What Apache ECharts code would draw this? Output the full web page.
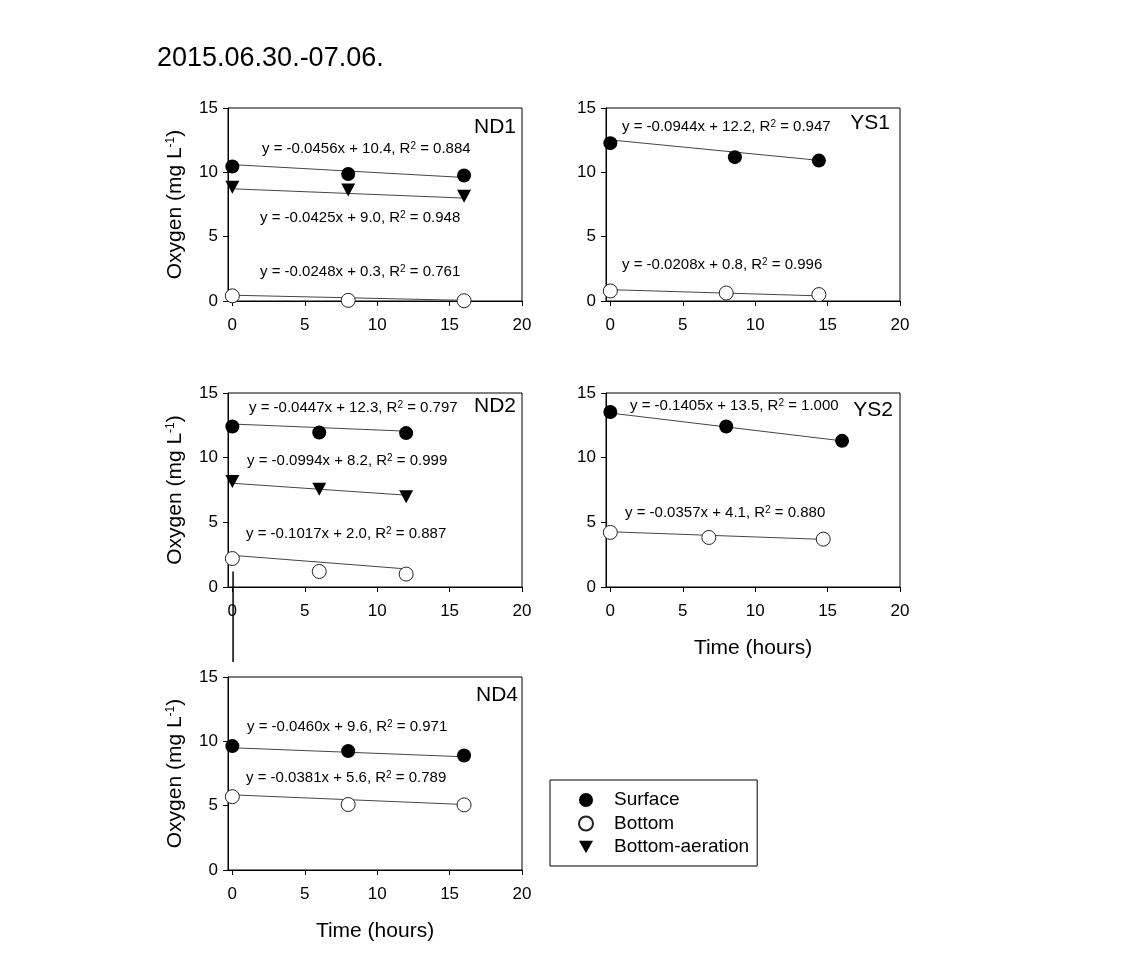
<!DOCTYPE html>
<html><head><meta charset="utf-8">
<script src="https://cdn.jsdelivr.net/npm/echarts@6/dist/echarts.min.js"></script>
<style>html,body{margin:0;padding:0;background:#fff}#c{width:1138px;height:957px}</style>
</head><body><div id="c"></div>
<script>
const FONT = '"Liberation Sans", Arial, sans-serif';
const chartTitle = '2015.06.30.-07.06.';
const xTickValues = [0, 5, 10, 15, 20];
const seriesNames = ['Surface', 'Bottom', 'Bottom-aeration'];
const yTitle = 'Oxygen (mg L';
const xTitle = 'Time (hours)';

// ND1
const nd1Time = [0, 8, 16];
const nd1Surface = [10.45, 9.87, 9.75];
const nd1Bottom = [0.4, 0.05, 0.02];
const nd1Aeration = [8.85, 8.62, 8.15];
const nd1FitTime = [0, 16];
const nd1SurfaceFit = [10.6, 9.6];
const nd1BottomFit = [0.45, 0.05];
const nd1AerationFit = [8.72, 8.0];
const nd1Eqs = [['-0.0456', '10.4', '0.884'], ['-0.0425', '9.0', '0.948'], ['-0.0248', '0.3', '0.761']];

// YS1
const ys1SurfaceTime = [0, 8.6, 14.4];
const ys1Surface = [12.27, 11.18, 10.91];
const ys1BottomTime = [0, 8, 14.4];
const ys1Bottom = [0.78, 0.62, 0.5];
const ys1FitTime = [0, 14.4];
const ys1SurfaceFit = [12.52, 10.93];
const ys1BottomFit = [0.88, 0.4];
const ys1Eqs = [['-0.0944', '12.2', '0.947'], ['-0.0208', '0.8', '0.996']];

// ND2
const nd2Time = [0, 6, 12];
const nd2Surface = [12.41, 11.95, 11.9];
const nd2Aeration = [8.15, 7.56, 6.98];
const nd2Bottom = [2.2, 1.2, 1.0];
const nd2FitTime = [0, 12];
const nd2SurfaceFit = [12.6, 12.05];
const nd2AerationFit = [8.02, 7.1];
const nd2BottomFit = [2.45, 1.4];
const nd2Eqs = [['-0.0447', '12.3', '0.797'], ['-0.0994', '8.2', '0.999'], ['-0.1017', '2.0', '0.887']];
const nd2StrayLine = [[0.05, 1.2], [0.05, -5.8]];

// YS2
const ys2SurfaceTime = [0, 8, 16];
const ys2Surface = [13.53, 12.41, 11.3];
const ys2BottomTime = [0, 6.8, 14.7];
const ys2Bottom = [4.22, 3.83, 3.7];
const ys2SurfaceFitTime = [0, 16];
const ys2SurfaceFit = [13.45, 11.3];
const ys2BottomFitTime = [0, 14.7];
const ys2BottomFit = [4.27, 3.68];
const ys2Eqs = [['-0.1405', '13.5', '1.000'], ['-0.0357', '4.1', '0.880']];

// ND4
const nd4Time = [0, 8, 16];
const nd4Surface = [9.63, 9.24, 8.9];
const nd4Bottom = [5.7, 5.09, 5.06];
const nd4FitTime = [0, 16];
const nd4SurfaceFit = [9.5, 8.8];
const nd4BottomFit = [5.84, 5.09];
const nd4Eqs = [['-0.0460', '9.6', '0.971'], ['-0.0381', '5.6', '0.789']];

const zip = (xs, ys) => xs.map((x, i) => [x, ys[i]]);

const panels = [
  { name: 'ND1', left: 228, top: 108, h: 193, yT: true, xT: false, lab: [516, 127],
    pts: [[0, zip(nd1Time, nd1Surface)], [1, zip(nd1Time, nd1Bottom)], [2, zip(nd1Time, nd1Aeration)]],
    fits: [zip(nd1FitTime, nd1SurfaceFit), zip(nd1FitTime, nd1AerationFit), zip(nd1FitTime, nd1BottomFit)],
    eqs: nd1Eqs, eqPos: [[262, 149], [260, 218], [260, 272]] },
  { name: 'YS1', left: 606, top: 108, h: 193, yT: false, xT: false, lab: [890, 123],
    pts: [[0, zip(ys1SurfaceTime, ys1Surface)], [1, zip(ys1BottomTime, ys1Bottom)]],
    fits: [zip(ys1FitTime, ys1SurfaceFit), zip(ys1FitTime, ys1BottomFit)],
    eqs: ys1Eqs, eqPos: [[622, 127], [622, 265]] },
  { name: 'ND2', left: 228, top: 393, h: 194, yT: true, xT: false, lab: [516, 406],
    pts: [[0, zip(nd2Time, nd2Surface)], [1, zip(nd2Time, nd2Bottom)], [2, zip(nd2Time, nd2Aeration)]],
    fits: [zip(nd2FitTime, nd2SurfaceFit), zip(nd2FitTime, nd2AerationFit), zip(nd2FitTime, nd2BottomFit)],
    eqs: nd2Eqs, eqPos: [[249, 408], [247, 461], [246, 534]], stray: nd2StrayLine },
  { name: 'YS2', left: 606, top: 393, h: 194, yT: false, xT: true, lab: [893, 410],
    pts: [[0, zip(ys2SurfaceTime, ys2Surface)], [1, zip(ys2BottomTime, ys2Bottom)]],
    fits: [zip(ys2SurfaceFitTime, ys2SurfaceFit), zip(ys2BottomFitTime, ys2BottomFit)],
    eqs: ys2Eqs, eqPos: [[630, 406], [625, 513]] },
  { name: 'ND4', left: 228, top: 677, h: 193, yT: true, xT: true, lab: [518, 695],
    pts: [[0, zip(nd4Time, nd4Surface)], [1, zip(nd4Time, nd4Bottom)]],
    fits: [zip(nd4FitTime, nd4SurfaceFit), zip(nd4FitTime, nd4BottomFit)],
    eqs: nd4Eqs, eqPos: [[247, 727], [246, 778]] }
];

const markerStyles = [
  { symbol: 'circle', symbolSize: 14, itemStyle: { color: '#000', opacity: 1 } },
  { symbol: 'circle', symbolSize: 14, itemStyle: { color: '#fff', borderColor: '#222', borderWidth: 1, opacity: 1 } },
  { symbol: 'path://M0,0L20,0L10,18Z', symbolSize: [14, 13], itemStyle: { color: '#000', opacity: 1 } }
];

const grids = [], xAxes = [], yAxes = [], series = [], graphics = [];
panels.forEach((p, i) => {
  grids.push({ left: p.left, top: p.top, width: 294, height: p.h, show: true, borderColor: '#000', borderWidth: 1, backgroundColor: 'transparent' });
  xAxes.push({
    gridIndex: i, type: 'value', min: -0.3, max: 20,
    axisLine: { show: true, onZero: false, lineStyle: { color: '#000', width: 1 } },
    axisTick: { show: true, length: 5, customValues: xTickValues, lineStyle: { color: '#000' } },
    axisLabel: { customValues: xTickValues, fontSize: 17, color: '#000', fontFamily: FONT, margin: 16 },
    splitLine: { show: false },
    name: p.xT ? xTitle : '', nameLocation: 'middle', nameGap: 51,
    nameTextStyle: { fontSize: 21, color: '#000', fontFamily: FONT }
  });
  yAxes.push({
    gridIndex: i, type: 'value', min: 0, max: 15, interval: 5,
    axisLine: { show: true, onZero: false, lineStyle: { color: '#000', width: 1 } },
    axisTick: { show: true, length: 5, lineStyle: { color: '#000' } },
    axisLabel: { fontSize: 17, color: '#000', fontFamily: FONT, margin: 10 },
    splitLine: { show: false },
    name: p.yT ? '{a|' + yTitle + '}{s|-1}{a|)}' : '', nameLocation: 'middle', nameGap: 42, nameRotate: 90,
    nameTextStyle: { color: '#000', fontFamily: FONT, fontSize: 21,
      rich: { a: { fontSize: 21, fontFamily: FONT, color: '#000' }, s: { fontSize: 12, fontFamily: FONT, color: '#000', verticalAlign: 'top' } } }
  });
  p.fits.forEach(f => series.push({
    type: 'line', xAxisIndex: i, yAxisIndex: i, data: f, symbol: 'none', silent: true, z: 2,
    lineStyle: { color: '#444', width: 1 }
  }));
  if (p.stray) series.push({
    type: 'line', xAxisIndex: i, yAxisIndex: i, data: p.stray, symbol: 'none', silent: true, clip: false, z: 2,
    lineStyle: { color: '#000', width: 1.5 }
  });
  p.pts.forEach(([k, d]) => series.push(Object.assign({
    type: 'scatter', name: seriesNames[k], xAxisIndex: i, yAxisIndex: i, data: d, z: 3
  }, JSON.parse(JSON.stringify(markerStyles[k])))));
  graphics.push({ type: 'text', x: p.lab[0], y: p.lab[1],
    style: { text: p.name, fill: '#000', fontSize: 21, fontFamily: FONT, align: 'right', verticalAlign: 'middle' } });
  p.eqs.forEach((e, j) => graphics.push({ type: 'text', x: p.eqPos[j][0], y: p.eqPos[j][1],
    style: { text: '{a|y = ' + e[0] + 'x + ' + e[1] + ', R}{s|2}{a| = ' + e[2] + '}', fill: '#000', fontFamily: FONT,
      align: 'left', verticalAlign: 'middle',
      rich: { a: { fontSize: 15, fontFamily: FONT, fill: '#000', color: '#000' }, s: { fontSize: 10, fontFamily: FONT, color: '#000', verticalAlign: 'top' } } } }));
});

const chart = echarts.init(document.getElementById('c'), null, { renderer: 'canvas' });
chart.setOption({
  backgroundColor: '#fff',
  animation: false,
  title: { text: chartTitle, left: 157, top: 45, padding: 0, textStyle: { fontSize: 27, fontWeight: 'normal', color: '#000', fontFamily: FONT } },
  legend: {
    left: 550, top: 780, orient: 'vertical', data: seriesNames, selectedMode: false,
    borderColor: '#000', borderWidth: 1, padding: [10, 8, 9, 28],
    itemWidth: 14, itemHeight: 14, itemGap: 3.5,
    textStyle: { fontSize: 19, color: '#000', fontFamily: FONT, padding: [0, 0, 0, 16], lineHeight: 20 }
  },
  grid: grids, xAxis: xAxes, yAxis: yAxes, series: series, graphic: graphics
});
</script></body></html>
